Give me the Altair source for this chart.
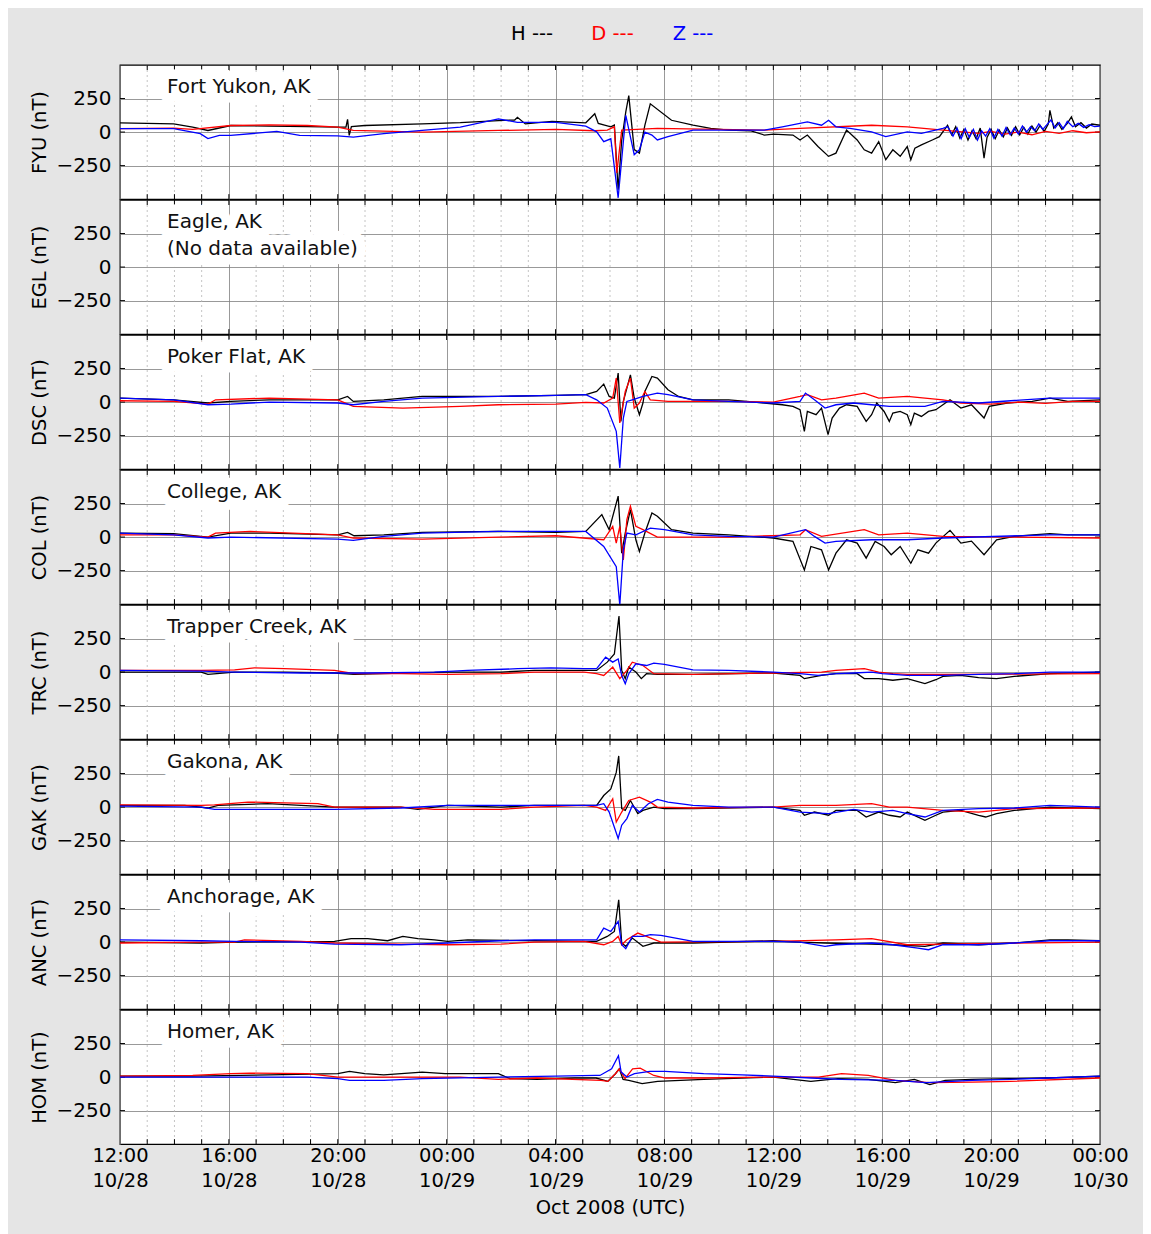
import altair as alt
import pandas as pd

# ---------------- data ----------------
STATION_CODES = ["FYU", "EGL", "DSC", "COL", "TRC", "GAK", "ANC", "HOM"]
STATION_NAMES = ["Fort Yukon, AK", "Eagle, AK\n(No data available)", "Poker Flat, AK",
                 "College, AK", "Trapper Creek, AK", "Gakona, AK", "Anchorage, AK", "Homer, AK"]
COMPONENTS = ["H", "D", "Z"]
COMP_COLORS = ["#000000", "#ff0000", "#0000ff"]
LEGEND_TEXT = ["H ---", "D ---", "Z ---"]
MAJOR_HOURS = [0, 4, 8, 12, 16, 20, 24, 28, 32, 36]
MINOR_HOURS = [1, 2, 3, 5, 6, 7, 9, 10, 11, 13, 14, 15, 17, 18, 19, 21, 22, 23,
               25, 26, 27, 29, 30, 31, 33, 34, 35]
Y_TICKS = [-250, 0, 250]
X_TITLE = "Oct 2008 (UTC)"

# (hours after 2008-10-28 12:00 UTC, nT)
FYU_H = [(0, 69), (1.97, 61), (2.67, 37), (3.23, 12), (4.07, 49), (5.48, 44), (6.9, 40), (8.0, 37),
         (8.3, 37), (8.36, 95), (8.42, -25), (8.5, 40), (8.99, 49), (11.1, 61), (12.5, 70), (13.9, 86),
         (14.5, 90), (14.6, 110), (14.89, 61), (15.87, 80), (17.11, 69), (17.44, 137), (17.57, 64),
         (18.03, 39), (18.16, 52), (18.3, -430), (18.43, -60), (18.58, 150), (18.69, 272), (18.89, -130),
         (19.08, -157), (19.28, 50), (19.48, 211), (20.26, 88), (21.05, 51), (21.7, 27), (22.36, 15),
         (23.15, 10), (23.67, -22), (24.0, -15), (24.72, -22), (24.98, -59), (25.25, -22), (25.64, -108),
         (26.03, -181), (26.3, -157), (26.69, 15), (27.08, -59), (27.34, -132), (27.61, -157), (27.87, -71),
         (28.13, -206), (28.39, -132), (28.66, -181), (28.92, -108), (29.05, -206), (29.2, -120),
         (29.44, -96), (29.84, -59), (30.1, -34), (30.4, 50), (30.55, -20), (30.7, 40), (30.85, -45),
         (31.0, 20), (31.15, -60), (31.3, 10), (31.45, -50), (31.6, 30), (31.74, -194), (31.85, -40),
         (32.0, 20), (32.15, -50), (32.3, 15), (32.45, -35), (32.6, 30), (32.75, -25), (32.9, 40),
         (33.05, -20), (33.2, 35), (33.35, -15), (33.5, 45), (33.65, 0), (33.8, 50), (33.95, 5),
         (34.1, 60), (34.16, 162), (34.3, 30), (34.45, 70), (34.6, 20), (34.8, 65), (34.95, 113),
         (35.1, 40), (35.3, 70), (35.5, 30), (35.7, 60), (36.0, 51)]
FYU_D = [(0, 25), (1.97, 29), (2.67, 20), (4.07, 49), (5.48, 54), (6.88, 49), (8.0, 37), (8.57, 12),
         (11.1, 0), (13.9, 12), (16.01, 20), (17.44, 10), (17.9, 15), (18.16, 39), (18.25, -304),
         (18.43, 15), (19.74, 27), (23.67, 15), (24.98, 27), (27.61, 51), (28.92, 39), (30.23, 15),
         (31.54, -10), (32.0, 5), (32.5, -15), (33.0, 0), (33.5, -20), (34.0, 5), (34.5, -10),
         (35.0, 10), (35.5, -5), (36.0, 2)]
FYU_Z = [(0, 25), (1.97, 25), (2.95, -12), (3.23, -49), (3.65, -25), (4.07, -25), (5.76, 5), (6.6, -25),
         (8.0, -29), (8.57, -37), (9.69, -12), (11.1, 12), (12.5, 37), (13.9, 98), (14.6, 73), (16.01, 73),
         (17.11, 44), (17.51, 2), (17.77, -71), (18.03, -50), (18.3, -490), (18.58, 125), (18.89, -169),
         (19.08, -132), (19.28, 0), (19.54, -22), (19.74, -59), (20.13, -34), (21.05, 15), (23.67, 15),
         (24.33, 39), (25.25, 76), (25.77, 51), (26.03, 88), (26.3, 39), (26.82, 27), (27.61, 2),
         (28.13, -34), (28.92, 2), (29.44, -10), (30.23, 27), (30.4, 40), (30.6, -30), (30.75, 30),
         (30.9, -50), (31.05, 25), (31.2, -40), (31.35, 20), (31.5, -60), (31.65, 10), (31.8, -30),
         (31.95, 25), (32.1, -45), (32.25, 20), (32.4, -30), (32.55, 35), (32.7, -20), (32.85, 30),
         (33.0, -15), (33.15, 45), (33.3, 0), (33.45, 40), (33.6, 10), (33.75, 60), (33.9, 20),
         (34.05, 55), (34.2, 90), (34.35, 30), (34.5, 70), (34.65, 25), (34.8, 80), (35.0, 40),
         (35.2, 65), (35.4, 35), (35.6, 55), (35.8, 40), (36.0, 45)]

DSC_H = [(0, 30), (1.97, 17), (3.23, -7), (4.07, 5), (5.48, 17), (8.0, 17), (8.36, 42), (8.57, 5),
         (9.69, 17), (11.1, 42), (13.9, 42), (16.01, 50), (17.11, 55), (17.51, 79), (17.77, 134),
         (17.97, 42), (18.16, 30), (18.3, 216), (18.4, -144), (18.49, 5), (18.75, 203), (18.89, 30),
         (19.08, -94), (19.21, -7), (19.28, 79), (19.54, 191), (19.74, 179), (20.13, 92), (20.52, 42),
         (21.05, 17), (22.36, 17), (23.02, 5), (23.67, -7), (24.33, -20), (24.72, -32), (24.98, -57),
         (25.14, -218), (25.25, -70), (25.57, -94), (25.77, -45), (26.01, -243), (26.16, -119),
         (26.43, -45), (26.69, -20), (27.08, -32), (27.41, -144), (27.61, -94), (27.8, -7), (28.07, -70),
         (28.26, -144), (28.39, -82), (28.66, -70), (28.92, -94), (29.05, -169), (29.18, -82),
         (29.44, -107), (29.7, -70), (29.97, -57), (30.23, -20), (30.49, 17), (30.89, -45), (31.28, -20),
         (31.74, -119), (31.93, -32), (32.59, -7), (33.51, 5), (34.16, 30), (34.82, 5), (36.0, 17)]
DSC_D = [(0, 10), (1.97, 5), (3.23, -15), (3.51, 17), (5.48, 30), (8.0, 17), (8.57, -32), (10.39, -45),
         (12.5, -32), (13.9, -20), (16.01, -15), (17.11, -2), (17.77, -7), (18.1, 30), (18.23, 179),
         (18.36, -156), (18.56, 79), (18.75, 179), (18.89, -45), (19.08, -7), (19.28, 79), (19.48, 17),
         (20.13, 5), (22.36, 5), (24.0, 0), (24.98, 42), (25.25, 55), (25.77, 17), (26.3, 30), (27.34, 67),
         (27.87, 30), (28.92, 42), (29.57, 30), (30.23, 17), (30.89, -7), (32.0, -15), (33.0, 0),
         (34.0, -10), (35.0, 5), (36.0, 5)]
DSC_Z = [(0, 30), (1.97, 17), (3.23, -20), (4.07, -15), (5.48, 0), (8.0, -7), (8.57, -20), (9.69, 5),
         (11.1, 30), (13.9, 42), (16.01, 50), (17.11, 55), (17.51, 17), (17.9, -45), (18.23, -218),
         (18.36, -491), (18.49, -119), (18.62, 5), (18.82, 17), (19.21, 42), (19.74, 67), (20.13, 55),
         (21.05, 17), (22.36, 5), (24.0, -7), (24.98, 5), (25.18, 67), (25.51, 17), (25.9, -45),
         (26.3, -20), (26.95, -7), (27.61, -20), (28.26, -32), (29.57, -32), (30.23, 5), (31.54, -7),
         (34.16, 30), (36.0, 30)]

COL_H = [(0, 30), (1.97, 25), (3.23, 0), (4.07, 30), (5.48, 30), (8.0, 17), (8.36, 35), (8.6, 10),
         (9.69, 17), (11.1, 35), (13.9, 42), (16.01, 35), (17.11, 42), (17.7, 167), (17.97, 55),
         (18.3, 305), (18.43, -120), (18.56, 30), (18.75, 205), (18.95, -20), (19.08, -107), (19.28, 30),
         (19.54, 180), (19.74, 155), (20.26, 55), (21.05, 30), (22.36, 17), (24.0, -7), (24.72, -32),
         (25.14, -245), (25.38, -70), (25.77, -95), (26.03, -245), (26.3, -120), (26.69, -20),
         (27.08, -45), (27.41, -157), (27.74, -32), (28.07, -70), (28.33, -132), (28.66, -70),
         (29.05, -195), (29.31, -95), (29.7, -120), (29.97, -45), (30.49, 50), (30.89, -45),
         (31.28, -30), (31.74, -132), (32.2, -20), (32.85, 5), (34.16, 25), (34.82, 17), (36.0, 17)]
COL_D = [(0, 17), (1.97, 17), (3.23, 0), (3.51, 30), (4.78, 42), (8.0, 17), (8.57, -7), (11.1, -15),
         (13.9, 0), (16.01, 10), (17.77, -20), (18.1, 80), (18.23, -45), (18.36, 80), (18.49, -170),
         (18.62, 130), (18.75, 230), (18.95, 80), (19.21, 55), (19.74, 0), (22.36, 0), (24.98, 17),
         (25.18, 55), (25.77, 5), (27.34, 55), (27.87, 17), (28.92, 30), (30.23, 5), (36.0, -7)]
COL_Z = [(0, 30), (1.97, 17), (3.23, -7), (4.07, 0), (8.0, -15), (8.57, -25), (9.69, 5), (11.1, 30),
         (13.9, 42), (16.01, 42), (17.11, 42), (17.77, -70), (18.23, -220), (18.36, -507), (18.49, -95),
         (18.62, 30), (18.95, 17), (19.48, 67), (20.0, 55), (21.05, 17), (22.36, 5), (24.0, 0),
         (25.18, 55), (25.51, 5), (25.9, -45), (26.3, -32), (27.61, -20), (28.92, -20), (30.23, -7),
         (34.16, 17), (36.0, 17)]

TRC_H = [(0, 0), (2.98, 0), (3.23, -17), (4.21, 0), (6.04, 0), (7.88, -7), (8.61, -17), (10.32, -7),
         (12.04, 0), (13.99, 0), (15.22, 12), (17.05, 12), (17.51, 12), (17.9, 74), (18.16, 135),
         (18.33, 418), (18.43, 12), (18.56, -49), (18.69, 37), (18.95, 0), (19.15, -49), (19.34, -12),
         (19.74, -17), (21.05, -17), (24.0, -7), (24.98, -25), (25.14, -49), (25.77, -25), (26.3, -12),
         (27.08, -12), (27.34, -49), (27.87, -49), (28.39, -61), (28.92, -49), (29.57, -86), (29.97, -57),
         (30.23, -32), (30.89, -25), (31.54, -42), (32.2, -49), (32.85, -32), (34.16, -12), (36.0, 0)]
TRC_D = [(0, 12), (2.98, 12), (4.21, 17), (4.94, 32), (6.04, 25), (7.88, 12), (8.61, -12), (10.32, -12),
         (12.04, -17), (13.99, -12), (15.22, 0), (17.05, 0), (17.51, -12), (17.77, -25), (18.1, 37),
         (18.36, -49), (18.62, 12), (18.82, 74), (19.21, 49), (19.61, -12), (21.05, -17), (24.0, -7),
         (25.77, 0), (26.3, 12), (27.34, 25), (27.87, 0), (28.39, -12), (28.92, -17), (30.23, -17),
         (36.0, -12)]
TRC_Z = [(0, 12), (2.98, 7), (4.21, 0), (6.65, -7), (7.88, -7), (9.1, -7), (11.55, 0), (12.77, 12),
         (14.61, 25), (15.83, 32), (17.05, 25), (17.51, 25), (17.84, 111), (18.1, 74), (18.3, 98),
         (18.43, -25), (18.56, -86), (18.69, -12), (18.95, 62), (19.34, 49), (19.61, 66), (20.0, 57),
         (21.05, 17), (22.36, 12), (24.0, 0), (24.98, -12), (25.64, -25), (26.3, -12), (26.95, -7),
         (27.61, 0), (28.0, -12), (28.92, -25), (30.23, -25), (31.54, -17), (32.85, -12), (34.16, 0),
         (36.0, 0)]

GAK_H = [(0, 12), (2.37, 12), (3.23, -7), (3.6, 12), (5.43, 25), (7.88, 0), (10.32, 0), (10.94, -17),
         (12.04, 12), (13.99, 0), (15.22, 12), (17.05, 12), (17.51, 12), (17.77, 86), (18.03, 135),
         (18.23, 258), (18.32, 381), (18.43, -12), (18.56, -25), (18.75, 49), (19.02, -49), (19.21, -25),
         (19.61, 0), (20.0, -12), (21.05, -12), (24.0, 0), (24.98, -25), (25.14, -61), (25.51, -37),
         (26.03, -61), (26.3, -25), (27.08, -25), (27.41, -74), (27.87, -37), (28.26, -61), (28.66, -74),
         (28.92, -37), (29.57, -98), (29.97, -61), (30.23, -37), (30.89, -25), (31.54, -61), (31.8, -74),
         (32.2, -49), (32.85, -25), (34.16, 0), (36.0, -12)]
GAK_D = [(0, 17), (2.98, 12), (3.47, 17), (4.7, 37), (6.04, 32), (7.27, 25), (7.88, 0), (10.32, 0),
         (11.55, -17), (13.99, -17), (15.22, 0), (17.05, 12), (17.51, 0), (17.84, -25), (18.1, 62),
         (18.23, -111), (18.43, -37), (18.69, 49), (19.08, 74), (19.48, 37), (19.74, 0), (21.05, -7),
         (24.0, 0), (24.98, 12), (26.3, 12), (27.61, 25), (28.26, 0), (28.92, 0), (30.23, -25),
         (31.54, -37), (32.85, -12), (36.0, -7)]
GAK_Z = [(0, 7), (2.98, 0), (3.47, -17), (6.65, -17), (7.88, -17), (10.32, -7), (12.04, 12), (13.99, 12),
         (17.05, 12), (17.51, 12), (17.77, 25), (17.97, -37), (18.3, -234), (18.43, -135), (18.62, -86),
         (18.82, 12), (19.08, -37), (19.41, 25), (19.74, 57), (20.13, 37), (21.05, 12), (22.36, 0),
         (24.0, 0), (24.98, -37), (26.03, -49), (26.95, -17), (27.61, -37), (28.39, -25), (28.92, -49),
         (29.57, -74), (30.23, -25), (31.54, -12), (32.85, -7), (34.16, 12), (36.0, 0)]

ANC_H = [(0, 0), (2.98, -7), (4.21, 0), (7.88, 5), (8.49, 25), (9.1, 25), (9.83, 10), (10.39, 42),
         (10.94, 25), (11.55, 17), (12.04, 5), (12.77, 17), (15.22, 10), (17.05, 5), (17.51, 5),
         (17.9, 42), (18.16, 79), (18.32, 315), (18.43, -7), (18.58, -32), (18.82, 30), (19.21, -32),
         (19.61, -7), (21.05, -7), (24.0, 10), (24.98, 0), (25.9, -7), (27.61, -15), (28.39, -20),
         (29.57, -32), (30.23, -7), (31.54, -20), (32.85, -7), (34.16, 17), (34.82, 17), (36.0, 10)]
ANC_D = [(0, -7), (2.98, 0), (4.21, 0), (4.57, 17), (6.65, 5), (7.88, -7), (10.32, -15), (12.04, -20),
         (13.99, -15), (15.22, 0), (17.05, 5), (17.77, -20), (18.1, 5), (18.3, 42), (18.43, -20),
         (18.62, 17), (19.02, 67), (19.34, 42), (19.87, 0), (24.0, 5), (26.3, 17), (27.61, 25),
         (28.92, -20), (30.23, -15), (36.0, 0)]
ANC_Z = [(0, 17), (2.98, 10), (4.21, 5), (6.65, 0), (7.88, -15), (10.32, -20), (12.04, -7), (13.99, 10),
         (15.22, 17), (17.05, 17), (17.51, 17), (17.77, 104), (18.03, 79), (18.3, 154), (18.43, -20),
         (18.58, -50), (18.82, 42), (19.21, 42), (19.48, 55), (19.87, 50), (21.05, 5), (24.0, 5),
         (24.98, 0), (25.9, -32), (26.3, -20), (27.61, -7), (28.39, -20), (29.31, -45), (29.7, -57),
         (30.23, -20), (31.54, -20), (32.85, -7), (34.16, 10), (36.0, 10)]

HOM_H = [(0, 7), (2.67, 7), (5.48, 17), (8.0, 25), (8.43, 42), (8.99, 25), (9.69, 17), (11.1, 37),
         (11.94, 25), (13.9, 25), (14.33, -12), (15.31, -17), (16.71, -7), (17.49, -7), (17.92, -32),
         (18.2, 25), (18.34, 61), (18.48, -17), (18.69, -25), (19.18, -49), (19.75, -32), (21.44, -17),
         (24.0, 0), (25.38, -32), (26.37, -12), (27.49, -17), (28.48, -42), (29.18, -17), (29.75, -56),
         (30.31, -25), (31.3, -17), (32.7, -12), (34.11, -7), (36.0, 7)]
HOM_D = [(0, 7), (2.67, 12), (4.07, 25), (4.78, 29), (6.88, 25), (8.0, 0), (9.69, 0), (12.5, 0),
         (13.9, -17), (15.31, -7), (17.67, -25), (17.92, -32), (18.2, 25), (18.34, 61), (18.55, -12),
         (18.83, 61), (19.11, 66), (19.61, 12), (20.03, -7), (21.44, -7), (24.0, 0), (25.66, 0),
         (26.51, 25), (27.49, 12), (28.48, -25), (29.75, -42), (31.3, -37), (32.7, -32), (36.0, -7)]
HOM_Z = [(0, 0), (2.67, 0), (6.88, 0), (8.0, -12), (8.43, -25), (9.69, -25), (11.1, -12), (13.9, 0),
         (16.01, 7), (17.49, 12), (17.63, 12), (18.06, 61), (18.31, 159), (18.41, 37), (18.62, 0),
         (18.9, 25), (19.46, 42), (20.03, 42), (21.44, 25), (22.85, 17), (24.0, 7), (25.38, -7),
         (26.51, -17), (28.48, -25), (29.61, -42), (31.3, -25), (32.7, -17), (34.11, -7), (36.0, 7)]

SERIES = {
    "FYU": [FYU_H, FYU_D, FYU_Z],
    "DSC": [DSC_H, DSC_D, DSC_Z],
    "COL": [COL_H, COL_D, COL_Z],
    "TRC": [TRC_H, TRC_D, TRC_Z],
    "GAK": [GAK_H, GAK_D, GAK_Z],
    "ANC": [ANC_H, ANC_D, ANC_Z],
    "HOM": [HOM_H, HOM_D, HOM_Z],
}

# ---------------- helpers ----------------
T0 = pd.Timestamp("2008-10-28 12:00:00")


def iso(h):
    return (T0 + pd.Timedelta(hours=h)).strftime("%Y-%m-%dT%H:%M:%SZ")


def dt(h):
    t = T0 + pd.Timedelta(hours=h)
    return alt.DateTime(year=t.year, month=t.month, date=t.day, hours=t.hour, utc=True)


W, H = 980, 134.15
FONT = "DejaVu Sans"
FS = 20
FSX = 19.5

xscale = alt.Scale(type="utc", domain=[dt(0), dt(36)])
yscale = alt.Scale(domain=[-500, 500], nice=False, zero=False)

minor_df = pd.DataFrame({"t": [iso(h) for h in MINOR_HOURS]})
hour_df = pd.DataFrame({"t": [iso(h) for h in MINOR_HOURS + MAJOR_HOURS[1:-1]]})
ytick_df = pd.DataFrame({"v": Y_TICKS})
legend_df = pd.DataFrame({"comp": COMPONENTS, "label": LEGEND_TEXT})


def x_axis(bottom):
    common = dict(values=[dt(h) for h in MAJOR_HOURS], grid=True, gridColor="#7f7f7f",
                  gridWidth=0.8, domain=False, ticks=False, tickSize=0)
    if bottom:
        return alt.Axis(labels=True, labelExpr="[utcFormat(datum.value, '%H:%M'), utcFormat(datum.value, '%m/%d')]",
                        labelFlush=False, labelOverlap=False, labelPadding=2, labelFontSize=FSX,
                        labelLineHeight=25, labelBaseline="top", labelColor="black", labelFont=FONT,
                        title=X_TITLE, titleFontSize=FSX, titleFontWeight="normal", titleColor="black",
                        titleFont=FONT, titlePadding=9, **common)
    return alt.Axis(labels=False, title=None, labelPadding=0, minExtent=0, maxExtent=0, **common)


def y_axis(code):
    return alt.Axis(values=Y_TICKS, grid=True, gridColor="#7f7f7f", gridWidth=0.8, domain=False,
                    ticks=False, tickSize=0, labelPadding=9, labelFontSize=FS, labelColor="black",
                    labelFont=FONT, title=f"{code} (nT)", titleFontSize=FSX, titleFontWeight="normal",
                    titleColor="black", titleFont=FONT, titlePadding=9, minExtent=62, maxExtent=62)


def panel(code, name, bottom):
    xa = x_axis(bottom)
    ya = y_axis(code)
    minor = alt.Chart(minor_df).mark_rule(color="#b5b5b5", strokeDash=[2, 3], strokeWidth=0.8).encode(
        x=alt.X("t:T", scale=xscale, axis=xa))
    ytl = alt.Chart(ytick_df).mark_rule(color="black").encode(
        y=alt.Y("v:Q", scale=yscale, axis=ya), x=alt.value(0), x2=alt.value(5))
    ytr = alt.Chart(ytick_df).mark_rule(color="black").encode(
        y=alt.Y("v:Q", scale=yscale, axis=ya), x=alt.value(W - 5), x2=alt.value(W))
    xtt = alt.Chart(hour_df).mark_rule(color="black").encode(
        x=alt.X("t:T", scale=xscale, axis=xa), y=alt.value(0), y2=alt.value(5))
    xtb = alt.Chart(hour_df).mark_rule(color="black").encode(
        x=alt.X("t:T", scale=xscale, axis=xa), y=alt.value(H - 5), y2=alt.value(H))
    layers = [minor, ytl, ytr, xtt, xtb]
    if code in SERIES:
        rows = []
        for comp, pts in zip(COMPONENTS, SERIES[code]):
            for i, (h, v) in enumerate(pts):
                rows.append({"comp": comp, "t": iso(h), "v": v, "ord": i})
        df = pd.DataFrame(rows)
        lines = alt.Chart(df).mark_line(strokeWidth=1.3, clip=True).encode(
            x=alt.X("t:T", scale=xscale, axis=xa),
            y=alt.Y("v:Q", scale=yscale, axis=ya),
            color=alt.Color("comp:N", scale=alt.Scale(domain=COMPONENTS, range=COMP_COLORS), legend=None),
            order=alt.Order("ord:Q"))
        layers.append(lines)
    lab_df = pd.DataFrame({"label": [name]})
    halo = alt.Chart(lab_df).mark_text(align="left", baseline="alphabetic", fontSize=FS, font=FONT,
                                       lineBreak="\n", lineHeight=27, stroke="white", strokeWidth=19,
                                       strokeJoin="round", color="white").encode(
        x=alt.value(47), y=alt.value(28), text="label:N")
    txt = alt.Chart(lab_df).mark_text(align="left", baseline="alphabetic", fontSize=FS, font=FONT,
                                      lineBreak="\n", lineHeight=27, color="#111111").encode(
        x=alt.value(47), y=alt.value(28), text="label:N")
    layers += [halo, txt]
    return alt.layer(*layers).properties(
        width=W, height=H, view=alt.ViewBackground(fill="white", stroke="black", strokeWidth=1.3))


panels = [panel(c, n, i == len(STATION_CODES) - 1) for i, (c, n) in enumerate(zip(STATION_CODES, STATION_NAMES))]

header = alt.Chart(legend_df).mark_text(fontSize=FSX, font=FONT, baseline="middle").encode(
    x=alt.X("comp:N", scale=alt.Scale(type="point", domain=COMPONENTS, range=[412, 573], padding=0), axis=None),
    y=alt.value(11),
    text="label:N",
    color=alt.Color("comp:N", scale=alt.Scale(domain=COMPONENTS, range=COMP_COLORS), legend=None),
).properties(width=W, height=40, view=alt.ViewBackground(strokeOpacity=0, fillOpacity=0))

chart = alt.vconcat(header, alt.vconcat(*panels, spacing=0, bounds="flush"), spacing=0).properties(
    padding={"left": 20, "top": 15, "right": 14, "bottom": 22},
    background="#e5e5e5",
).configure(font=FONT)

chart.save("out.html", embed_options={"renderer": "svg", "actions": False})
